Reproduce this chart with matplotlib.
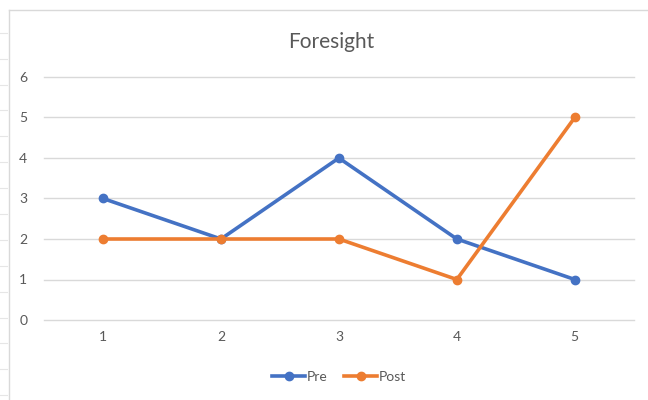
import matplotlib.pyplot as plt
from matplotlib.lines import Line2D

categories = [1, 2, 3, 4, 5]
pre = [3, 2, 4, 2, 1]
post = [2, 2, 2, 1, 5]

plt.rcParams['font.family'] = ['Lato', 'DejaVu Sans']

fig = plt.figure(figsize=(6.48, 4.0), dpi=100)
ax = fig.add_axes([0.068, 0.2, 0.910, 0.6075])

ax.plot(categories, pre, color='#4472C4', lw=2.6, marker='o', ms=6, label='Pre',
        solid_joinstyle='round', zorder=3)
ax.plot(categories, post, color='#ED7D31', lw=2.6, marker='o', ms=6, label='Post',
        solid_joinstyle='round', zorder=3)

ax.set_xlim(0.5, 5.5)
ax.set_ylim(0, 6)
ax.set_xticks(categories)
ax.set_yticks(range(0, 7))
ax.grid(axis='y', color='#d9d9d9', lw=1)
for gl in ax.get_ygridlines():
    gl.set_clip_on(False)
ax.set_axisbelow(True)
for s in ax.spines.values():
    s.set_visible(False)
ax.tick_params(length=0, labelsize=10, colors='#595959', pad=8)
ax.tick_params(axis='y', pad=12)

fig.text(0.511, 0.895, 'Foresight', ha='center', va='center', fontsize=15, color='#595959')

ax.legend(loc='center', bbox_to_anchor=(0.5, -0.235), ncol=2, frameon=False,
          fontsize=10, labelcolor='#595959', handlelength=2.4, handletextpad=0.1,
          columnspacing=1.2)

# chart frame and sheet row marks
fig.add_artist(Line2D([9/648, 9/648], [0, 1 - 10/400], color='#d9d9d9', lw=1))
fig.add_artist(Line2D([9/648, 1], [1 - 10/400, 1 - 10/400], color='#d9d9d9', lw=1))
for y in [33, 59, 85, 110, 136, 162, 188, 214, 240, 266, 292, 318, 343, 369, 395]:
    fig.add_artist(Line2D([0, 7/648], [1 - y/400, 1 - y/400], color='#e6e6e6', lw=0.8))

fig.savefig('out.png', dpi=100, facecolor='white')
